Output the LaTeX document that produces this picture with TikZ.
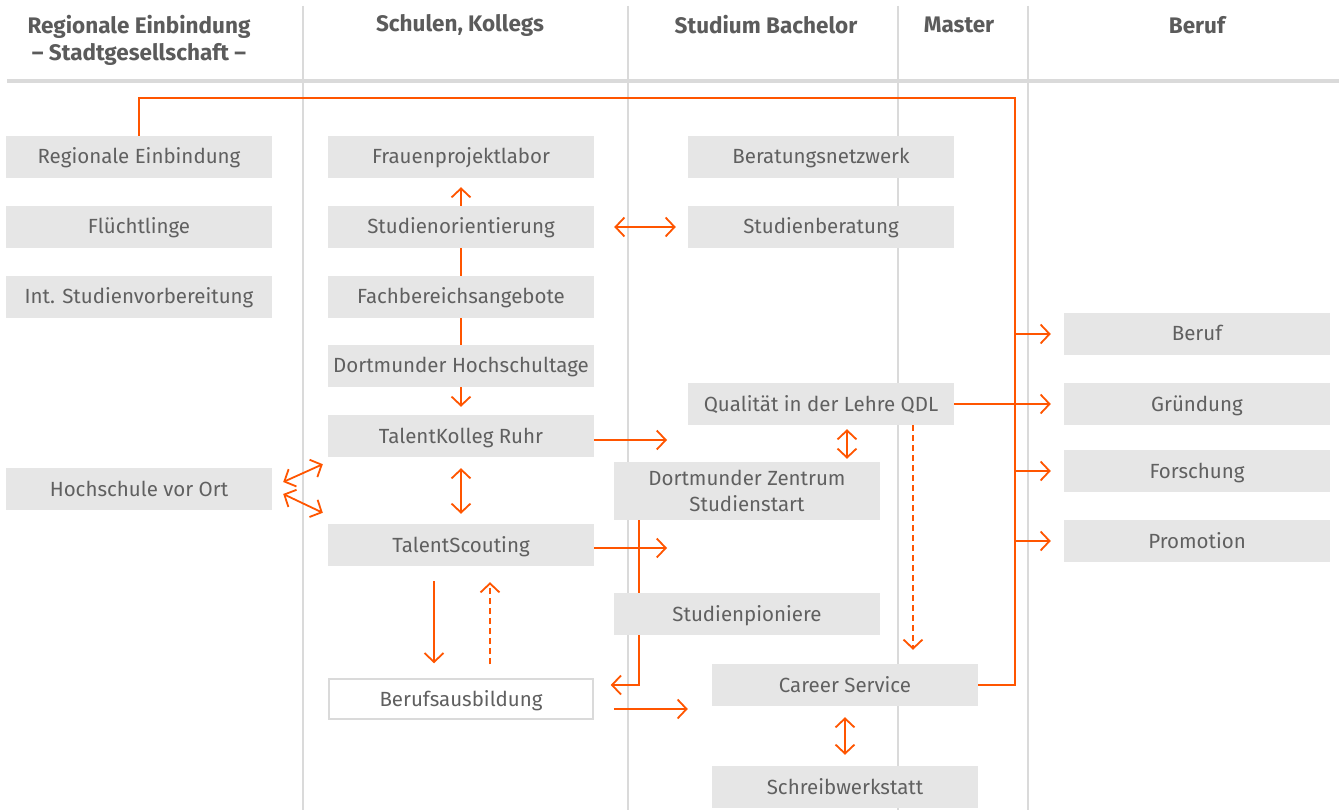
\documentclass[tikz,border=0pt]{standalone}
\usepackage{fontspec}
\setmainfont{Fira Sans}
\usetikzlibrary{arrows.meta}
\definecolor{orng}{RGB}{255,85,0}
\definecolor{boxgray}{RGB}{230,230,230}
\definecolor{rulegray}{RGB}{218,218,218}
\definecolor{txtgray}{RGB}{96,96,96}

\begin{document}
\begin{tikzpicture}[x=1pt,y=-1pt,
    bx/.style={rectangle,fill=boxgray,text=txtgray,minimum width=266pt,minimum height=42pt,
        inner sep=0pt,text height=15pt,text depth=1pt,font=\fontsize{20.5}{26}\selectfont},
    hd/.style={text=txtgray!95!black,align=center,font=\fontsize{22.5}{27}\selectfont\bfseries},
    cn/.style={orng,line width=1.8pt},
    ar/.style={cn,-{Straight Barb[length=9pt,width=19pt]}},
    dar/.style={cn,{Straight Barb[length=9pt,width=19pt]}-{Straight Barb[length=9pt,width=19pt]}},
    dsh/.style={dash pattern=on 6pt off 4pt}]
            \useasboundingbox (0,0) rectangle (1339,810);

            % columns
            \begin{scope}[rulegray]
                \draw[line width=4pt] (7,81.5) -- (1339,81.5);
                \foreach \x in {303,628,898,1028}
                    \draw[line width=1.8pt] (\x,6) -- (\x,810);
            \end{scope}

            \draw (139,40) node[hd](h1){Regionale Einbindung\\– Stadtgesellschaft –};
            \draw (460,25) node[hd](h2){Schulen, Kollegs};
            \draw (766,25) node[hd](h3){Studium Bachelor};
            \draw (959,25) node[hd](h4){Master};
            \draw (1197,25) node[hd](h5){Beruf};

            \draw (139,157) node[bx](regio){Regionale Einbindung};
            \draw (139,227) node[bx](fluecht){Flüchtlinge};
            \draw (139,297) node[bx](intsv){Int. Studienvorbereitung};
            \draw (139,489) node[bx](hvo){Hochschule vor Ort};

            \draw (461,157) node[bx](frau){Frauenprojektlabor};
            \draw (461,227) node[bx](storient){Studienorientierung};
            \draw (461,297) node[bx](fachb){Fachbereichsangebote};
            \draw (461,366) node[bx](dht){Dortmunder Hochschultage};
            \draw (461,436) node[bx](tkr){TalentKolleg Ruhr};
            \draw (461,545) node[bx](tscout){TalentScouting};
            \draw (461,699) node[bx,fill=white,draw=rulegray,line width=1.5pt,minimum width=264pt,minimum height=40pt](ausb){Berufsausbildung};

            \draw (821,157) node[bx](bnetz){Beratungsnetzwerk};
            \draw (821,227) node[bx](sberat){Studienberatung};
            \draw (821,404) node[bx](qdl){Qualität in der Lehre QDL};
            \draw (747,491) node[bx,minimum height=58pt,align=center,text height=,text depth=,font=\fontsize{20.5}{26}\selectfont](dzs){Dortmunder Zentrum\\Studienstart};
            \draw (747,614) node[bx](spion){Studienpioniere};
            \draw (845,685) node[bx](career){Career Service};
            \draw (845,787) node[bx](schreib){Schreibwerkstatt};

            \draw (1197,334) node[bx](beruf){Beruf};
            \draw (1197,404) node[bx](gruend){Gründung};
            \draw (1197,471) node[bx](forsch){Forschung};
            \draw (1197,541) node[bx](promo){Promotion};

            \coordinate (bus) at (1015,98);
            \coordinate (tkend) at (667,440);
            \coordinate (tsend) at (667,548);

            % lines without tips
            \begin{scope}
                \draw[cn] (career.east) -| (bus) -| (regio.north);
                \draw[cn] (storient.south) -- (fachb.north);
                \draw[cn] (fachb.south) -- (dht.north);
                \draw[cn] ([xshift=25pt]dzs.south west) -- ([xshift=25pt]spion.north west);
            \end{scope}

            % single arrows
            \begin{scope}
                \path[ar] (bus |- beruf.west) edge ([xshift=-13pt]beruf.west);
                \path[ar] (qdl.east) edge ([xshift=-13pt]gruend.west);
                \path[ar] (bus |- forsch.west) edge ([xshift=-13pt]forsch.west);
                \path[ar] (bus |- promo.west) edge ([xshift=-13pt]promo.west);
                \path[ar] (storient.north) edge ([yshift=-9pt]frau.south);
                \path[ar] (dht.south) edge ([yshift=8pt]tkr.north);
                \path[ar] (tkr.east |- tkend) edge (tkend);
                \path[ar] (tscout.east |- tsend) edge (tsend);
                \path[ar] ([xshift=-27pt,yshift=-15pt]tscout.south) edge ([xshift=-27pt,yshift=15pt]ausb.north);
                \path[ar,dsh] ([xshift=29pt,yshift=14pt]ausb.north) edge ([xshift=29pt,yshift=-16pt]tscout.south);
                \path[ar] ([xshift=20pt,yshift=-10pt]ausb.east) edge ([xshift=-24pt,yshift=-24pt]career.west);
                \path[ar,dsh] ([xshift=92pt]qdl.south) edge ([xshift=68pt,yshift=14pt]career.north);
                \draw[ar] ([xshift=25pt]spion.south west) |- ([xshift=17pt,yshift=14pt]ausb.east);
            \end{scope}

            % double arrows
            \begin{scope}
                \path[dar] ([xshift=20pt]storient.east) edge ([xshift=-12pt]sberat.west);
                \path[dar] ([yshift=-11pt]tkr.south) edge ([yshift=10pt]tscout.north);
                \path[dar] ([xshift=11pt,yshift=7pt]hvo.east) edge ([xshift=-5pt,yshift=-7pt]tkr.south west);
                \path[dar] ([xshift=11pt,yshift=-5pt]hvo.east) edge ([xshift=-5pt,yshift=11pt]tscout.north west);
                \path[dar] ([xshift=26pt,yshift=-4pt]qdl.south) edge ([xshift=100pt,yshift=3pt]dzs.north);
                \path[dar] ([yshift=-11pt]career.south) edge ([yshift=11pt]schreib.north);
            \end{scope}
        \end{tikzpicture}
\end{document}
